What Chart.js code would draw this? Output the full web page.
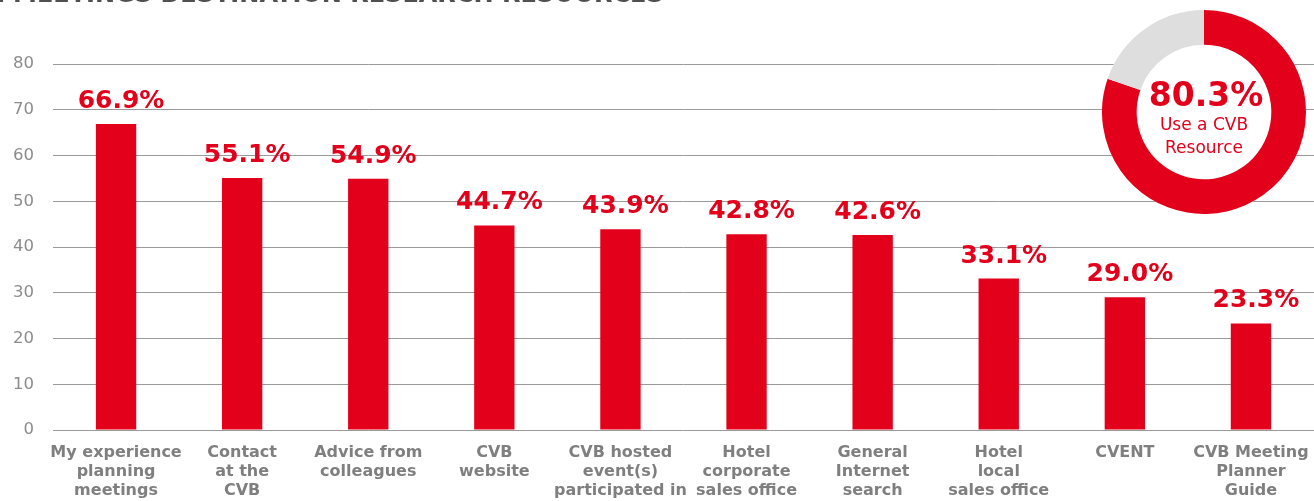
<!DOCTYPE html>
<html>
<head>
<meta charset="utf-8">
<script src="https://cdn.jsdelivr.net/npm/chart.js@4.4.1/dist/chart.umd.min.js"></script>
<style>
  html,body{margin:0;padding:0;background:#fff;overflow:hidden;}
  #wrap{position:relative;width:1314px;height:501px;overflow:hidden;}
  #title{position:absolute;left:13px;top:-18px;font-family:"DejaVu Sans",sans-serif;font-weight:700;font-size:24px;line-height:24px;color:#505050;white-space:nowrap;}
  #title .pre{position:absolute;right:100%;top:0;white-space:pre;}
  #main{position:absolute;left:0;top:0;}
  #donutBox{position:absolute;left:1102px;top:10px;width:204px;height:204px;border-radius:50%;background:#fff;}
</style>
</head>
<body>
<div id="wrap">
  <canvas id="main" width="1314" height="501"></canvas>
  <div id="title"><span class="pre">FIGURE 1 </span>MEETINGS DESTINATION RESEARCH RESOURCES</div>
  <div id="donutBox"><canvas id="donut" width="204" height="204"></canvas></div>
</div>
<script>
const categories = [
  ["My experience","planning","meetings"],
  ["Contact","at the","CVB"],
  ["Advice from","colleagues"],
  ["CVB","website"],
  ["CVB hosted","event(s)","participated in"],
  ["Hotel","corporate","sales office"],
  ["General","Internet","search"],
  ["Hotel","local","sales office"],
  ["CVENT"],
  ["CVB Meeting","Planner","Guide"]
];
const values = [66.9, 55.1, 54.9, 44.7, 43.9, 42.8, 42.6, 33.1, 29.0, 23.3];
const yTicks = [0, 10, 20, 30, 40, 50, 60, 70, 80];
const donutValues = [80.3, 19.7];
const donutLabels = ["Use a CVB Resource", "Other"];
const donutText = ["80.3%", "Use a CVB", "Resource"];

const RED = "#e3001b";

const valueLabels = {
  id: "valueLabels",
  afterDatasetsDraw(chart) {
    const ctx = chart.ctx;
    const meta = chart.getDatasetMeta(0);
    ctx.save();
    ctx.fillStyle = RED;
    ctx.font = "700 25px 'DejaVu Sans', sans-serif";
    ctx.textAlign = "center";
    ctx.textBaseline = "alphabetic";
    meta.data.forEach((bar, i) => {
      ctx.fillText(values[i].toFixed(1) + "%", bar.x + 5, bar.y - 16);
    });
    ctx.restore();
  }
};

new Chart(document.getElementById("main"), {
  type: "bar",
  data: {
    labels: categories,
    datasets: [{
      data: values,
      backgroundColor: RED,
      barPercentage: 0.32,
      categoryPercentage: 1.0
    }]
  },
  options: {
    responsive: false,
    animation: false,
    layout: { padding: { top: 64, left: 0, right: 0, bottom: 0 } },
    plugins: { legend: { display: false }, tooltip: { enabled: false } },
    scales: {
      x: {
        grid: { display: false, drawTicks: false },
        border: { display: false },
        ticks: {
          color: "#7f7f7f",
          font: { family: "'DejaVu Sans', sans-serif", weight: "700", size: 16, lineHeight: 1.16 },
          padding: 14,
          maxRotation: 0,
          autoSkip: false
        },
        afterFit(s) { s.height = 71; s.paddingLeft = 0; s.paddingRight = 0; }
      },
      y: {
        min: 0, max: 80,
        afterBuildTicks(s) { s.ticks = yTicks.map(v => ({ value: v })); },
        grid: { color: "#9a9a9a", lineWidth: 1, drawTicks: false },
        border: { display: false },
        ticks: {
          color: "#8c8c8c",
          font: { family: "'DejaVu Sans', sans-serif", size: 16.5 },
          padding: 19
        },
        afterFit(s) { s.width = 53; }
      }
    }
  },
  plugins: [valueLabels]
});

const centerText = {
  id: "centerText",
  afterDraw(chart) {
    const ctx = chart.ctx;
    const cx = chart.width / 2;
    ctx.save();
    ctx.fillStyle = RED;
    ctx.textAlign = "center";
    ctx.textBaseline = "middle";
    ctx.font = "700 33px 'DejaVu Sans', sans-serif";
    ctx.fillText(donutText[0], cx + 2, 87);
    ctx.font = "400 17px 'DejaVu Sans', sans-serif";
    ctx.fillText(donutText[1], cx, 116);
    ctx.fillText(donutText[2], cx, 139);
    ctx.restore();
  }
};

new Chart(document.getElementById("donut"), {
  type: "doughnut",
  data: {
    labels: donutLabels,
    datasets: [{ data: donutValues, backgroundColor: [RED, "#dedede"], borderWidth: 0 }]
  },
  options: {
    responsive: false,
    animation: false,
    cutout: "66%",
    layout: { padding: 0 },
    plugins: { legend: { display: false }, tooltip: { enabled: false } }
  },
  plugins: [centerText]
});
</script>
</body>
</html>
